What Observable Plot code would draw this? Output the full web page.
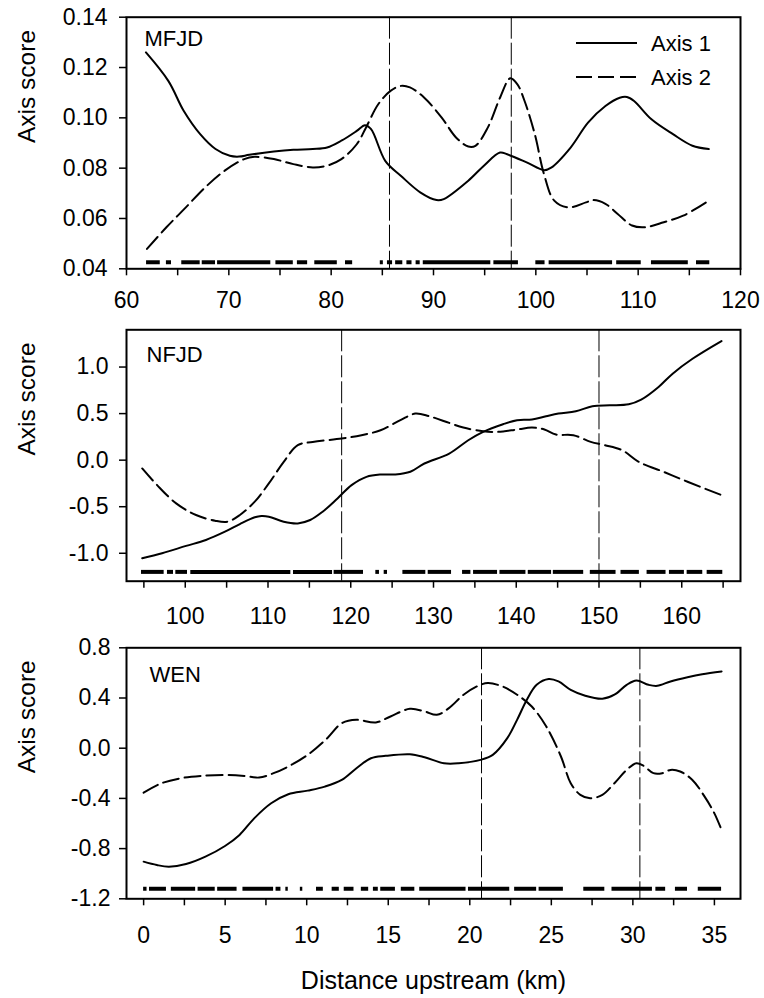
<!DOCTYPE html>
<html>
<head>
<meta charset="utf-8">
<script src="https://cdn.jsdelivr.net/npm/d3@7"></script>
<script src="https://cdn.jsdelivr.net/npm/@observablehq/plot@0.6"></script>
<style>
  body { margin: 0; background: #fff; }
  #chart { position: relative; width: 764px; height: 998px; font-family: "Liberation Sans", Arial, sans-serif; }
  #chart svg { position: absolute; left: 0; overflow: visible; }
</style>
</head>
<body>
<div id="chart"></div>
<script>
// ---------------- MFJD ----------------
const mfjdAxis1X = [61.9, 64.1, 65.6, 67.2, 68.7, 70.1, 71.0, 72.0, 74.4, 76.3, 78.2, 79.6, 81.0, 82.5, 83.3, 83.9, 85.3, 86.8, 88.7, 90.3, 91.0, 93.4, 94.9, 96.5, 97.2, 99.1, 100.8, 101.5, 103.4, 105.1, 106.8, 108.2, 108.9, 109.6, 111.3, 113.4, 115.3, 116.9];
const mfjdAxis1Y = [0.126, 0.1146, 0.1027, 0.0935, 0.0876, 0.0849, 0.0846, 0.0853, 0.0866, 0.0873, 0.0876, 0.0882, 0.0909, 0.0948, 0.0971, 0.0955, 0.0828, 0.0770, 0.0704, 0.0673, 0.0677, 0.0750, 0.0809, 0.0862, 0.0855, 0.0823, 0.0792, 0.0802, 0.0882, 0.0981, 0.1047, 0.1080, 0.1083, 0.1067, 0.0994, 0.0935, 0.0889, 0.0876];
const mfjdAxis2X = [62.0, 63.9, 65.8, 67.7, 69.6, 71.5, 72.5, 74.4, 76.3, 78.2, 79.6, 81.0, 82.5, 83.4, 84.6, 85.8, 86.8, 87.7, 89.1, 90.8, 92.2, 93.4, 94.1, 95.3, 96.5, 97.5, 98.2, 98.9, 99.9, 100.8, 101.8, 103.2, 104.9, 105.6, 106.8, 108.0, 109.4, 110.6, 112.5, 114.4, 116.9];
const mfjdAxis2Y = [0.0479, 0.0565, 0.0644, 0.0724, 0.0790, 0.0836, 0.0845, 0.0836, 0.0816, 0.0803, 0.0810, 0.0836, 0.0895, 0.0961, 0.1054, 0.1107, 0.1127, 0.1121, 0.1080, 0.1001, 0.0922, 0.0886, 0.0889, 0.0961, 0.1080, 0.1157, 0.1133, 0.1067, 0.0935, 0.0776, 0.0671, 0.0644, 0.0664, 0.0673, 0.0658, 0.0618, 0.0572, 0.0565, 0.0585, 0.0611, 0.0671];
const mfjdBreaks = [85.7, 97.6];
const mfjdRugStart = [61.96, 63.9, 65.4, 67.4, 68.9, 74.6, 76.7, 78.4, 81.4, 84.8, 85.5, 86.3, 87.4, 88.3, 89.0, 95.9, 100.0, 101.3, 107.9, 111.3, 115.7];
const mfjdRugEnd   = [63.3, 64.4, 67.2, 68.7, 74.1, 76.3, 77.7, 80.6, 82.1, 85.1, 86.0, 87.0, 87.9, 88.7, 95.6, 98.3, 100.9, 107.5, 110.3, 114.9, 117.0];
const mfjdRugY = 0.0426;
const mfjdXDomain = [60, 120];
const mfjdYDomain = [0.04, 0.14];
const mfjdXTicks = [60, 65, 70, 75, 80, 85, 90, 95, 100, 105, 110, 115, 120];
const mfjdXLabelStep = 10;
const mfjdYTicks = [0.04, 0.06, 0.08, 0.10, 0.12, 0.14];

// ---------------- NFJD ----------------
const nfjdAxis1X = [94.8, 97.2, 100.1, 102.5, 104.8, 106.6, 108.4, 109.2, 110.1, 111.9, 113.6, 115.1, 116.6, 118.4, 120.1, 121.9, 123.6, 125.4, 127.2, 128.9, 131.9, 134.2, 136.0, 138.4, 140.1, 141.9, 143.6, 145.1, 147.2, 149.2, 151.3, 153.6, 155.1, 157.2, 158.9, 161.3, 164.8];
const nfjdAxis1Y = [-1.054, -1.0, -0.921, -0.857, -0.768, -0.686, -0.614, -0.6, -0.607, -0.661, -0.679, -0.643, -0.554, -0.411, -0.268, -0.179, -0.154, -0.154, -0.125, -0.036, 0.071, 0.214, 0.304, 0.386, 0.429, 0.436, 0.471, 0.5, 0.525, 0.579, 0.589, 0.6, 0.65, 0.786, 0.929, 1.089, 1.279];
const nfjdAxis2X = [94.8, 96.6, 98.9, 101.3, 103.6, 105.1, 106.6, 108.4, 110.1, 111.9, 113.6, 115.4, 118.9, 121.3, 123.6, 126.0, 127.8, 129.5, 131.9, 133.6, 136.0, 137.8, 140.1, 141.9, 143.4, 144.8, 146.9, 149.0, 150.7, 152.8, 154.8, 157.8, 160.7, 164.8];
const nfjdAxis2Y = [-0.089, -0.268, -0.464, -0.589, -0.65, -0.661, -0.589, -0.446, -0.25, -0.018, 0.161, 0.196, 0.232, 0.268, 0.321, 0.429, 0.5, 0.471, 0.4, 0.35, 0.311, 0.304, 0.329, 0.35, 0.329, 0.275, 0.268, 0.196, 0.161, 0.107, -0.018, -0.125, -0.232, -0.375];
const nfjdBreaks = [118.9, 150.0];
const nfjdRugStart = [94.71, 97.85, 98.86, 100.67, 113.08, 117.99, 123.03, 124.04, 126.3, 129.36, 133.51, 134.84, 138.03, 141.45, 144.48, 148.95, 152.66, 155.81, 158.51, 160.65, 163.07];
const nfjdRugEnd   = [97.45, 98.58, 100.27, 112.76, 117.8, 121.54, 123.47, 124.44, 129.07, 132.18, 134.52, 137.74, 141.17, 144.27, 148.15, 152.06, 154.88, 158.1, 160.32, 162.54, 164.96];
const nfjdRugY = -1.2;
const nfjdXDomain = [92.9, 167.1];
const nfjdYDomain = [-1.3, 1.4];
const nfjdXTicks = [95, 100, 105, 110, 115, 120, 125, 130, 135, 140, 145, 150, 155, 160, 165];
const nfjdXLabelStep = 10;
const nfjdYTicks = [-1.0, -0.5, 0.0, 0.5, 1.0];

// ---------------- WEN ----------------
const wenAxis1X = [0, 0.81, 1.55, 2.6, 3.79, 4.99, 5.88, 6.78, 7.82, 8.87, 10.06, 11.11, 12.15, 13.05, 13.94, 14.84, 16.33, 17.23, 18.42, 19.32, 20.66, 21.41, 22.3, 22.9, 23.5, 24.1, 24.84, 25.44, 26.19, 27.08, 28.13, 28.87, 29.62, 30.22, 30.96, 31.5, 32.31, 33.35, 34.25, 35.44];
const wenAxis1Y = [-0.904, -0.931, -0.944, -0.923, -0.864, -0.779, -0.691, -0.559, -0.439, -0.367, -0.338, -0.306, -0.253, -0.160, -0.080, -0.061, -0.048, -0.072, -0.120, -0.120, -0.093, -0.053, 0.080, 0.226, 0.386, 0.505, 0.551, 0.532, 0.465, 0.418, 0.394, 0.426, 0.505, 0.540, 0.505, 0.497, 0.532, 0.566, 0.590, 0.612];
const wenAxis2X = [0, 1.1, 2.3, 3.49, 4.99, 6.18, 7.08, 7.97, 8.87, 10.06, 11.26, 12.15, 13.05, 14.24, 15.14, 16.33, 17.23, 17.98, 18.72, 19.62, 20.51, 21.11, 22.0, 22.9, 23.8, 24.69, 25.59, 26.19, 26.78, 27.38, 28.13, 28.87, 29.62, 30.22, 30.66, 31.26, 31.8, 32.31, 32.9, 33.65, 34.4, 35.0, 35.44];
const wenAxis2Y = [-0.354, -0.279, -0.239, -0.221, -0.213, -0.221, -0.234, -0.199, -0.146, -0.053, 0.080, 0.199, 0.226, 0.205, 0.253, 0.314, 0.293, 0.266, 0.319, 0.426, 0.497, 0.519, 0.492, 0.426, 0.332, 0.173, -0.066, -0.279, -0.372, -0.399, -0.372, -0.279, -0.173, -0.120, -0.141, -0.199, -0.199, -0.173, -0.186, -0.253, -0.386, -0.519, -0.652];
const wenBreaks = [20.72, 30.43];
const wenRugStart = [0, 0.36, 1.7, 3.34, 4.54, 6.09, 8.12, 8.72, 9.61, 10.6, 11.56, 12.3, 13.35, 14.09, 14.54, 15.8, 16.93, 19.92, 22.75, 24.25, 26.99, 28.72, 31.41, 32.61, 34.01];
const wenRugEnd   = [0.21, 1.4, 3.19, 4.39, 5.73, 7.97, 8.42, 8.87, 9.76, 11.02, 12.0, 12.9, 13.8, 14.39, 15.44, 16.63, 19.77, 22.45, 24.1, 25.74, 28.28, 31.2, 32.01, 33.35, 35.44];
const wenRugY = -1.12;
const wenXDomain = [-1.05, 36.6];
const wenYDomain = [-1.2, 0.8];
const wenXTicks = [0, 2.5, 5, 7.5, 10, 12.5, 15, 17.5, 20, 22.5, 25, 27.5, 30, 32.5, 35];
const wenXLabelStep = 5;
const wenYTicks = [-1.2, -0.8, -0.4, 0.0, 0.4, 0.8];

// ---------------- text ----------------
const panelNames = ["MFJD", "NFJD", "WEN"];
const seriesNames = ["Axis 1", "Axis 2"];
const yTitle = "Axis score";
const xTitle = "Distance upstream (km)";

const FONT = "'Liberation Sans', Arial, sans-serif";
const zip = (xs, ys) => xs.map((x, i) => ({x, y: ys[i]}));
const zipRug = (s, e) => s.map((a, i) => ({start: a, end: e[i]}));

function panel(cfg) {
  const marks = [
    Plot.ruleX(cfg.breaks, {stroke: "black", strokeWidth: 1, strokeDasharray: "22,4"}),
    Plot.ruleY(zipRug(cfg.rugStart, cfg.rugEnd), {x1: "start", x2: "end", y: () => cfg.rugY, stroke: "black", strokeWidth: 4}),
    Plot.line(zip(cfg.a1x, cfg.a1y), {x: "x", y: "y", curve: "catmull-rom", stroke: "black", strokeWidth: 2}),
    Plot.line(zip(cfg.a2x, cfg.a2y), {x: "x", y: "y", curve: "catmull-rom", stroke: "black", strokeWidth: 2, strokeDasharray: "16,6"}),
    Plot.frame({stroke: "black", strokeWidth: 2}),
    Plot.axisX({ticks: cfg.xTicks, tickSize: 7, tickPadding: cfg.xPad, strokeWidth: 1.5, fontSize: 23, label: null,
      tickFormat: d => (Math.abs(d % cfg.xStep) < 1e-9 ? String(d) : "")}),
    Plot.axisY({ticks: cfg.yTicks, tickSize: 7, tickPadding: cfg.yPad, strokeWidth: 1.5, fontSize: 23, label: null,
      tickFormat: d => d.toFixed(cfg.dec)}),
    Plot.text([cfg.name], {text: d => d, frameAnchor: "top-left", dx: cfg.nameDx, dy: cfg.nameDy, textAnchor: "start", lineAnchor: "middle", fontSize: 22}),
    Plot.text([yTitle], {text: d => d, frameAnchor: "left", dx: -99, rotate: -90, fontSize: 24.5})
  ];
  if (cfg.extra) marks.push(...cfg.extra);
  const svg = Plot.plot({
    width: 764, height: cfg.height,
    marginLeft: 126, marginRight: 24, marginTop: cfg.mt, marginBottom: cfg.mb,
    x: {domain: cfg.xDomain},
    y: {domain: cfg.yDomain},
    style: {fontFamily: FONT, fontSize: "22px", color: "black", background: "transparent", overflow: "visible"},
    marks
  });
  svg.style.top = cfg.top + "px";
  return svg;
}

const chart = document.getElementById("chart");

chart.appendChild(panel({
  top: 0, height: 330, mt: 16.7, mb: 330 - 268.3,
  a1x: mfjdAxis1X, a1y: mfjdAxis1Y, a2x: mfjdAxis2X, a2y: mfjdAxis2Y,
  breaks: mfjdBreaks, rugStart: mfjdRugStart, rugEnd: mfjdRugEnd, rugY: mfjdRugY,
  xDomain: mfjdXDomain, yDomain: mfjdYDomain, xTicks: mfjdXTicks, xStep: mfjdXLabelStep, yTicks: mfjdYTicks,
  dec: 2, xPad: 16, yPad: 12, name: panelNames[0], nameDx: 18, nameDy: 22
}));

chart.appendChild(panel({
  top: 300, height: 345, mt: 329.3 - 300, mb: 645 - 580.7,
  a1x: nfjdAxis1X, a1y: nfjdAxis1Y, a2x: nfjdAxis2X, a2y: nfjdAxis2Y,
  breaks: nfjdBreaks, rugStart: nfjdRugStart, rugEnd: nfjdRugEnd, rugY: nfjdRugY,
  xDomain: nfjdXDomain, yDomain: nfjdYDomain, xTicks: nfjdXTicks, xStep: nfjdXLabelStep, yTicks: nfjdYTicks,
  dec: 1, xPad: 19, yPad: 11, name: panelNames[1], nameDx: 20, nameDy: 25
}));

chart.appendChild(panel({
  top: 620, height: 378, mt: 647.3 - 620, mb: 998 - 898.3,
  a1x: wenAxis1X, a1y: wenAxis1Y, a2x: wenAxis2X, a2y: wenAxis2Y,
  breaks: wenBreaks, rugStart: wenRugStart, rugEnd: wenRugEnd, rugY: wenRugY,
  xDomain: wenXDomain, yDomain: wenYDomain, xTicks: wenXTicks, xStep: wenXLabelStep, yTicks: wenYTicks,
  dec: 1, xPad: 21, yPad: 9, name: panelNames[2], nameDx: 23, nameDy: 27,
  extra: [Plot.text([xTitle], {text: d => d, frameAnchor: "bottom", dy: 82, lineAnchor: "middle", fontSize: 25})]
}));

// legend (panel 1, top right)
const leg = d3.select(chart).append("svg")
  .attr("width", 764).attr("height", 100)
  .style("top", "0px")
  .attr("font-family", FONT);
seriesNames.forEach((name, i) => {
  const y = 43 + i * 34;
  leg.append("line").attr("x1", 576).attr("x2", 637).attr("y1", y).attr("y2", y)
    .attr("stroke", "black").attr("stroke-width", 2)
    .attr("stroke-dasharray", i === 1 ? "16,6" : null);
  leg.append("text").attr("x", 651).attr("y", y).attr("dy", "0.35em")
    .attr("font-size", 22).attr("fill", "black").text(name);
});
</script>
</body>
</html>
